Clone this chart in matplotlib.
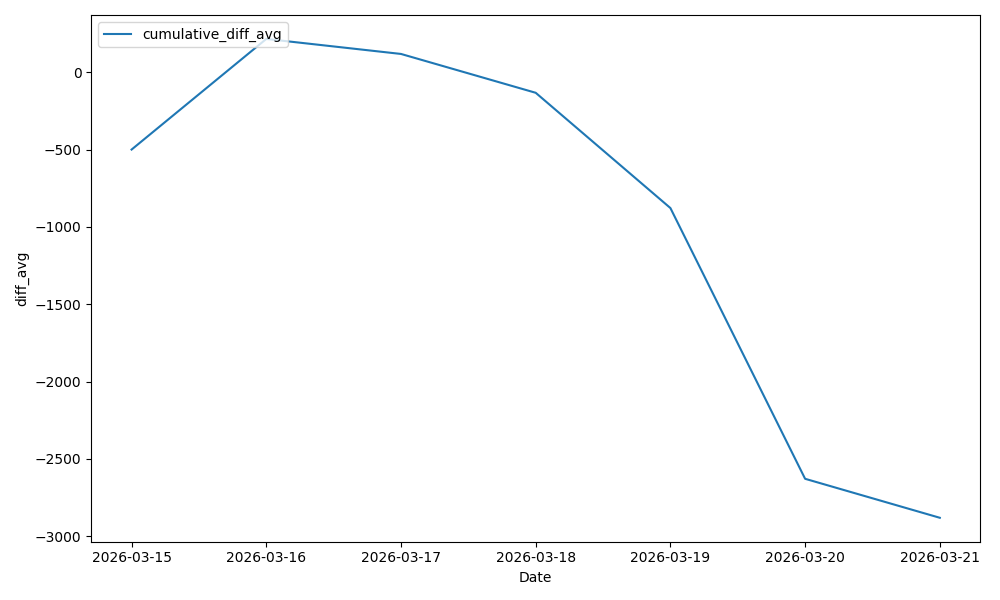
import matplotlib
matplotlib.use("Agg")
import matplotlib.pyplot as plt
import pandas as pd

dates = ["2026-03-15", "2026-03-16", "2026-03-17", "2026-03-18",
         "2026-03-19", "2026-03-20", "2026-03-21"]
cumulative_diff_avg = [-500, 215, 118, -133, -878, -2628, -2880]

x = pd.to_datetime(dates)

fig, ax = plt.subplots(figsize=(10, 6), dpi=100)
ax.plot(x, cumulative_diff_avg, label="cumulative_diff_avg")
ax.set_xticks(x)
ax.set_xticklabels(dates)
ax.set_xlabel("Date")
ax.set_ylabel("diff_avg")
ax.legend(loc="upper left")
fig.tight_layout()
fig.savefig("out.png")
